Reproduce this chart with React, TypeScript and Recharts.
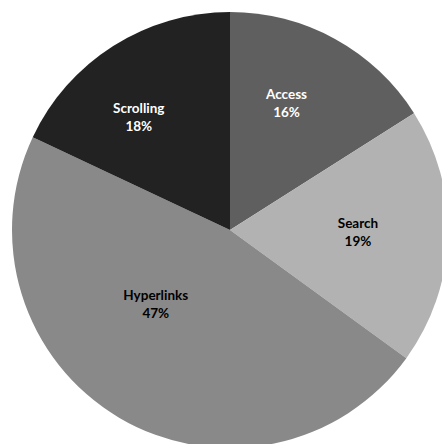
import React from "react";
import { PieChart, Pie, Cell } from "recharts";

const categories = ["Access", "Search", "Hyperlinks", "Scrolling"];
const shares = [16, 19, 47, 18];
const colors = ["#5f5f5f", "#b2b2b2", "#898989", "#222222"];
const textColors = ["#ffffff", "#000000", "#000000", "#ffffff"];
// label placement tweaks (angle shift in degrees, radius in px)
const labelAngleShift = [4.8, 0.8, -14.4, 6.6];
const labelRadius = [139, 128, 105, 145];

const data = categories.map((name, i) => ({ name, value: shares[i] }));

const RADIAN = Math.PI / 180;

const renderLabel = (props: any) => {
  const { cx, cy, midAngle, index, name, value } = props;
  const a = (midAngle + labelAngleShift[index]) * RADIAN;
  const r = labelRadius[index];
  const x = cx + r * Math.cos(a);
  const y = cy - r * Math.sin(a);
  return (
    <text
      x={x}
      y={y}
      fill={textColors[index]}
      textAnchor="middle"
      fontFamily="Lato, 'Open Sans', sans-serif"
      fontWeight="bold"
      fontSize={13.5}
    >
      <tspan x={x} dy={-4}>{name}</tspan>
      <tspan x={x} dy={18}>{`${value}%`}</tspan>
    </text>
  );
};

export default function App() {
  return (
    <div style={{ position: "absolute", left: 0, top: 0, background: "#fff" }}>
      <PieChart width={442} height={444} margin={{ top: 0, right: 0, bottom: 0, left: 0 }}>
        <Pie
          data={data}
          dataKey="value"
          nameKey="name"
          cx={230}
          cy={230}
          outerRadius={218}
          startAngle={90}
          endAngle={-270}
          stroke="none"
          label={renderLabel}
          labelLine={false}
          isAnimationActive={false}
        >
          {data.map((d, i) => (
            <Cell key={d.name} fill={colors[i]} />
          ))}
        </Pie>
      </PieChart>
    </div>
  );
}
